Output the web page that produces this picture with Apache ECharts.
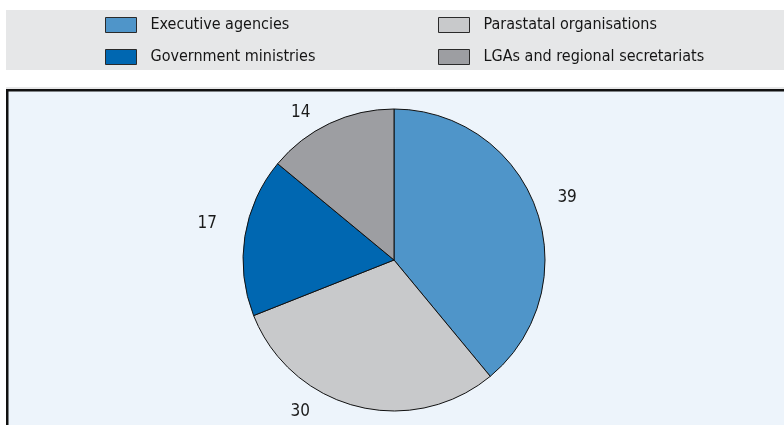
<!DOCTYPE html>
<html>
<head>
<meta charset="utf-8">
<script src="https://cdn.jsdelivr.net/npm/echarts@6/dist/echarts.min.js"></script>
<style>
  html, body { margin: 0; padding: 0; background: #ffffff; }
  #chart { width: 784px; height: 425px; }
</style>
</head>
<body>
<div id="chart"></div>
<script>
// Share of public bodies by type
const categories = [
  'Executive agencies',
  'Parastatal organisations',
  'Government ministries',
  'LGAs and regional secretariats'
];
const values = [39, 30, 17, 14];
const colors = ['#4f95c9', '#c8c9cb', '#0067b1', '#9d9ea2'];
// small nudges of the value labels away from the ring, in px
const labelNudges = [[0, 0], [-48, -27], [-5, -8], [-15, 19]];

const FONT = '"DejaVu Sans Condensed", "DejaVu Sans", sans-serif';

const pieData = categories.map((name, i) => ({
  name: name,
  value: values[i],
  itemStyle: { color: colors[i] }
}));

const labelData = categories.map((name, i) => ({
  name: name,
  value: values[i],
  label: { offset: labelNudges[i] }
}));

const legendCommon = {
  orient: 'vertical',
  top: 10,
  icon: 'rect',
  itemWidth: 31,
  itemHeight: 15,
  itemGap: 12,
  selectedMode: false,
  itemStyle: { borderColor: '#2a2a2a', borderWidth: 1 },
  textStyle: {
    fontFamily: FONT,
    fontSize: 16,
    color: '#151515',
    lineHeight: 20,
    padding: [0, 0, 0, 9]
  }
};

const chart = echarts.init(document.getElementById('chart'), null, { renderer: 'canvas' });

chart.setOption({
  animation: false,
  backgroundColor: '#ffffff',
  graphic: [
    // legend band
    { type: 'rect', z: -10, silent: true,
      shape: { x: 6, y: 10, width: 790, height: 60 },
      style: { fill: '#e6e7e8' } },
    // faint rule above the plot panel
    { type: 'line', z: -10, silent: true,
      shape: { x1: 6, y1: 88, x2: 790, y2: 88 },
      style: { stroke: '#cfd0d2', lineWidth: 1 } },
    // plot panel
    { type: 'rect', z: -10, silent: true,
      shape: { x: 7.25, y: 90.25, width: 790, height: 350 },
      style: { fill: '#edf4fb', stroke: '#111111', lineWidth: 2.5 } }
  ],
  legend: [
    Object.assign({}, legendCommon, {
      left: 100,
      data: [categories[0], categories[2]]
    }),
    Object.assign({}, legendCommon, {
      left: 433,
      data: [categories[1], categories[3]]
    })
  ],
  series: [
    {
      type: 'pie',
      center: [394, 260],
      radius: 151,
      startAngle: 90,
      clockwise: true,
      silent: true,
      label: { show: false },
      labelLine: { show: false },
      itemStyle: { borderColor: '#111111', borderWidth: 1 },
      data: pieData
    },
    {
      // value labels on a transparent ring outside the pie
      type: 'pie',
      center: [394, 260],
      radius: [176, 186],
      startAngle: 90,
      clockwise: true,
      silent: true,
      itemStyle: { color: 'rgba(0,0,0,0)', borderWidth: 0 },
      label: {
        show: true,
        position: 'inside',
        formatter: '{c}',
        fontFamily: FONT,
        fontSize: 17,
        color: '#1a1a1a'
      },
      labelLine: { show: false },
      data: labelData
    }
  ]
});
</script>
</body>
</html>
